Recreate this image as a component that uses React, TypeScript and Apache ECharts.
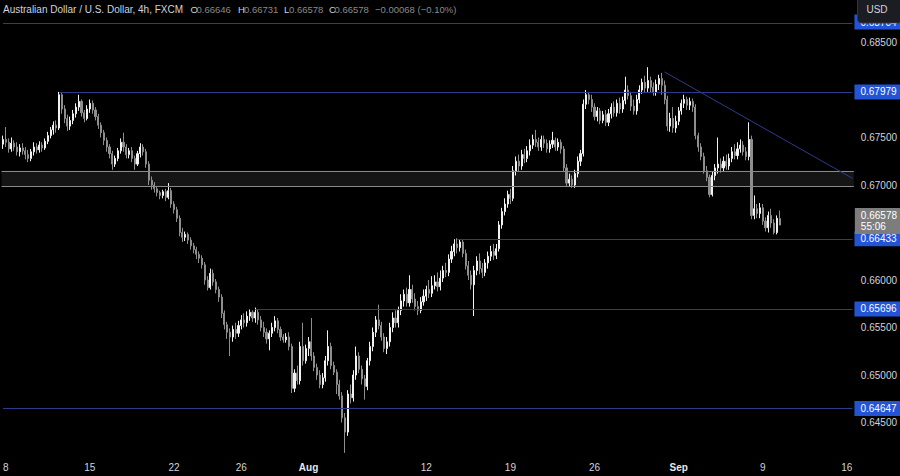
import React, { useEffect, useRef } from 'react';
import * as echarts from 'echarts';

// [open, close, low, high] per 4h candle
const CANDLES: number[][] = [
  [0.6743,0.6748,0.6738,0.6752],[0.6748,0.6745,0.6740,0.6761],[0.6745,0.6738,0.6734,0.6749],[0.6738,0.6744,0.6735,0.6750],
  [0.6744,0.6740,0.6736,0.6747],[0.6740,0.6735,0.6731,0.6745],[0.6735,0.6739,0.6730,0.6743],[0.6739,0.6736,0.6732,0.6744],
  [0.6736,0.6732,0.6727,0.6740],[0.6732,0.6728,0.6724,0.6737],[0.6728,0.6735,0.6725,0.6738],[0.6735,0.6740,0.6731,0.6745],
  [0.6740,0.6737,0.6733,0.6744],[0.6737,0.6742,0.6734,0.6746],[0.6742,0.6739,0.6735,0.6745],[0.6739,0.6746,0.6737,0.6749],
  [0.6746,0.6752,0.6743,0.6756],[0.6752,0.6758,0.6749,0.6761],[0.6758,0.6763,0.6753,0.6767],[0.6763,0.6760,0.6755,0.6768],
  [0.6760,0.6795,0.6758,0.6798],[0.6795,0.6780,0.6775,0.6798],[0.6780,0.6770,0.6765,0.6784],[0.6770,0.6762,0.6757,0.6774],
  [0.6762,0.6768,0.6758,0.6772],[0.6768,0.6775,0.6764,0.6779],[0.6775,0.6782,0.6771,0.6786],[0.6782,0.6788,0.6778,0.6795],
  [0.6788,0.6776,0.6772,0.6790],[0.6776,0.6770,0.6766,0.6779],[0.6770,0.6780,0.6768,0.6784],[0.6780,0.6786,0.6776,0.6790],
  [0.6786,0.6779,0.6775,0.6789],[0.6779,0.6772,0.6768,0.6782],[0.6772,0.6763,0.6759,0.6775],[0.6763,0.6755,0.6750,0.6766],
  [0.6755,0.6747,0.6742,0.6758],[0.6747,0.6740,0.6735,0.6750],[0.6740,0.6733,0.6728,0.6743],[0.6733,0.6722,0.6716,0.6736],
  [0.6722,0.6728,0.6719,0.6731],[0.6728,0.6736,0.6725,0.6739],[0.6736,0.6745,0.6733,0.6749],[0.6745,0.6740,0.6735,0.6755],
  [0.6740,0.6732,0.6728,0.6743],[0.6732,0.6736,0.6728,0.6739],[0.6736,0.6728,0.6724,0.6740],[0.6728,0.6722,0.6716,0.6731],
  [0.6722,0.6733,0.6720,0.6736],[0.6733,0.6740,0.6729,0.6744],[0.6740,0.6735,0.6731,0.6743],[0.6735,0.6722,0.6718,0.6738],
  [0.6722,0.6705,0.6700,0.6725],[0.6705,0.6700,0.6695,0.6709],[0.6700,0.6696,0.6692,0.6703],[0.6696,0.6692,0.6688,0.6699],
  [0.6692,0.6689,0.6685,0.6694],[0.6689,0.6693,0.6686,0.6695],[0.6693,0.6687,0.6683,0.6696],[0.6687,0.6694,0.6685,0.6702],
  [0.6694,0.6680,0.6676,0.6697],[0.6680,0.6674,0.6670,0.6683],[0.6674,0.6665,0.6661,0.6677],[0.6665,0.6650,0.6646,0.6668],
  [0.6650,0.6645,0.6640,0.6655],[0.6645,0.6648,0.6641,0.6651],[0.6648,0.6642,0.6638,0.6650],[0.6642,0.6636,0.6632,0.6645],
  [0.6636,0.6632,0.6628,0.6639],[0.6632,0.6627,0.6622,0.6635],[0.6627,0.6623,0.6618,0.6630],[0.6623,0.6616,0.6612,0.6626],
  [0.6616,0.6600,0.6595,0.6619],[0.6600,0.6592,0.6589,0.6604],[0.6592,0.6607,0.6590,0.6612],[0.6607,0.6598,0.6594,0.6611],
  [0.6598,0.6590,0.6586,0.6601],[0.6590,0.6582,0.6577,0.6593],[0.6582,0.6565,0.6560,0.6585],[0.6565,0.6553,0.6548,0.6568],
  [0.6553,0.6545,0.6538,0.6556],[0.6545,0.6540,0.6520,0.6549],[0.6540,0.6548,0.6535,0.6552],[0.6548,0.6544,0.6538,0.6555],
  [0.6544,0.6552,0.6540,0.6557],[0.6552,0.6558,0.6548,0.6563],[0.6558,0.6555,0.6550,0.6565],[0.6555,0.6562,0.6551,0.6567],
  [0.6562,0.6566,0.6557,0.6569],[0.6566,0.6560,0.6556,0.6568],[0.6560,0.6566,0.6555,0.6571],[0.6566,0.6558,0.6553,0.6569],
  [0.6558,0.6550,0.6546,0.6562],[0.6550,0.6545,0.6540,0.6556],[0.6545,0.6538,0.6533,0.6549],[0.6538,0.6544,0.6526,0.6547],
  [0.6544,0.6550,0.6540,0.6555],[0.6550,0.6557,0.6546,0.6562],[0.6557,0.6548,0.6544,0.6560],[0.6548,0.6540,0.6536,0.6551],
  [0.6540,0.6537,0.6534,0.6543],[0.6537,0.6540,0.6534,0.6544],[0.6540,0.6530,0.6526,0.6545],[0.6530,0.6486,0.6481,0.6533],
  [0.6486,0.6502,0.6482,0.6506],[0.6502,0.6494,0.6490,0.6510],[0.6494,0.6530,0.6490,0.6535],[0.6530,0.6515,0.6510,0.6555],
  [0.6515,0.6528,0.6512,0.6532],[0.6528,0.6535,0.6520,0.6540],[0.6535,0.6520,0.6515,0.6560],[0.6520,0.6508,0.6504,0.6524],
  [0.6508,0.6500,0.6495,0.6512],[0.6500,0.6490,0.6486,0.6505],[0.6490,0.6497,0.6486,0.6502],[0.6497,0.6515,0.6493,0.6520],
  [0.6515,0.6530,0.6510,0.6547],[0.6530,0.6510,0.6506,0.6534],[0.6510,0.6503,0.6500,0.6514],[0.6503,0.6490,0.6480,0.6506],
  [0.6490,0.6478,0.6474,0.6495],[0.6478,0.6455,0.6450,0.6482],[0.6455,0.6440,0.6418,0.6460],[0.6440,0.6480,0.6436,0.6484],
  [0.6480,0.6476,0.6470,0.6490],[0.6476,0.6500,0.6472,0.6505],[0.6500,0.6520,0.6495,0.6530],[0.6520,0.6506,0.6502,0.6524],
  [0.6506,0.6496,0.6490,0.6510],[0.6496,0.6488,0.6474,0.6500],[0.6488,0.6515,0.6484,0.6518],[0.6515,0.6530,0.6510,0.6535],
  [0.6530,0.6545,0.6525,0.6550],[0.6545,0.6558,0.6540,0.6562],[0.6558,0.6552,0.6548,0.6574],[0.6552,0.6540,0.6536,0.6556],
  [0.6540,0.6528,0.6524,0.6544],[0.6528,0.6535,0.6522,0.6540],[0.6535,0.6550,0.6530,0.6555],[0.6550,0.6560,0.6545,0.6566],
  [0.6560,0.6555,0.6550,0.6568],[0.6555,0.6568,0.6550,0.6572],[0.6568,0.6578,0.6563,0.6585],[0.6578,0.6585,0.6572,0.6590],
  [0.6585,0.6576,0.6572,0.6592],[0.6576,0.6590,0.6572,0.6605],[0.6590,0.6580,0.6576,0.6595],[0.6580,0.6572,0.6568,0.6586],
  [0.6572,0.6568,0.6563,0.6578],[0.6568,0.6577,0.6565,0.6582],[0.6577,0.6583,0.6573,0.6590],[0.6583,0.6590,0.6578,0.6594],
  [0.6590,0.6586,0.6581,0.6600],[0.6586,0.6594,0.6582,0.6604],[0.6594,0.6598,0.6590,0.6605],[0.6598,0.6593,0.6588,0.6608],
  [0.6593,0.6602,0.6589,0.6610],[0.6602,0.6610,0.6598,0.6615],[0.6610,0.6608,0.6603,0.6618],[0.6608,0.6622,0.6604,0.6627],
  [0.6622,0.6630,0.6618,0.6636],[0.6630,0.6638,0.6625,0.6643],[0.6638,0.6634,0.6628,0.6644],[0.6634,0.6640,0.6630,0.6643],
  [0.6640,0.6628,0.6624,0.6643],[0.6628,0.6615,0.6611,0.6632],[0.6615,0.6605,0.6600,0.6620],[0.6605,0.6595,0.6590,0.6610],
  [0.6595,0.6610,0.6562,0.6615],[0.6610,0.6620,0.6605,0.6625],[0.6620,0.6612,0.6606,0.6628],[0.6612,0.6608,0.6602,0.6618],
  [0.6608,0.6618,0.6604,0.6622],[0.6618,0.6625,0.6612,0.6630],[0.6625,0.6630,0.6620,0.6636],[0.6630,0.6626,0.6621,0.6638],
  [0.6626,0.6633,0.6622,0.6638],[0.6633,0.6658,0.6630,0.6662],[0.6658,0.6672,0.6654,0.6676],[0.6672,0.6680,0.6668,0.6686],
  [0.6680,0.6690,0.6676,0.6694],[0.6690,0.6686,0.6680,0.6696],[0.6686,0.6715,0.6683,0.6720],[0.6715,0.6725,0.6710,0.6730],
  [0.6725,0.6720,0.6714,0.6732],[0.6720,0.6732,0.6716,0.6737],[0.6732,0.6728,0.6723,0.6738],[0.6728,0.6736,0.6724,0.6741],
  [0.6736,0.6742,0.6731,0.6748],[0.6742,0.6748,0.6738,0.6753],[0.6748,0.6745,0.6740,0.6758],[0.6745,0.6740,0.6736,0.6750],
  [0.6740,0.6748,0.6736,0.6752],[0.6748,0.6744,0.6739,0.6752],[0.6744,0.6738,0.6734,0.6748],[0.6738,0.6743,0.6734,0.6747],
  [0.6743,0.6747,0.6739,0.6756],[0.6747,0.6740,0.6736,0.6750],[0.6740,0.6745,0.6736,0.6749],[0.6745,0.6738,0.6733,0.6748],
  [0.6738,0.6718,0.6714,0.6741],[0.6718,0.6702,0.6698,0.6722],[0.6702,0.6706,0.6698,0.6712],[0.6706,0.6700,0.6697,0.6710],
  [0.6700,0.6712,0.6697,0.6716],[0.6712,0.6725,0.6708,0.6730],[0.6725,0.6733,0.6720,0.6737],[0.6733,0.6785,0.6730,0.6790],
  [0.6785,0.6795,0.6780,0.6800],[0.6795,0.6790,0.6785,0.6798],[0.6790,0.6782,0.6777,0.6795],[0.6782,0.6772,0.6768,0.6786],
  [0.6772,0.6778,0.6767,0.6782],[0.6778,0.6768,0.6764,0.6781],[0.6768,0.6774,0.6765,0.6778],[0.6774,0.6766,0.6762,0.6779],
  [0.6766,0.6775,0.6762,0.6780],[0.6775,0.6782,0.6770,0.6786],[0.6782,0.6776,0.6772,0.6788],[0.6776,0.6786,0.6772,0.6790],
  [0.6786,0.6780,0.6775,0.6792],[0.6780,0.6789,0.6776,0.6793],[0.6789,0.6800,0.6785,0.6814],[0.6800,0.6794,0.6790,0.6805],
  [0.6794,0.6783,0.6778,0.6798],[0.6783,0.6778,0.6774,0.6790],[0.6778,0.6790,0.6774,0.6795],[0.6790,0.6800,0.6786,0.6805],
  [0.6800,0.6808,0.6796,0.6812],[0.6808,0.6802,0.6797,0.6815],[0.6802,0.6810,0.6798,0.6824],[0.6810,0.6803,0.6797,0.6814],
  [0.6803,0.6798,0.6794,0.6808],[0.6798,0.6806,0.6794,0.6811],[0.6806,0.6812,0.6800,0.6816],[0.6812,0.6805,0.6795,0.6818],
  [0.6805,0.6790,0.6785,0.6810],[0.6790,0.6762,0.6757,0.6794],[0.6762,0.6770,0.6756,0.6776],[0.6770,0.6760,0.6755,0.6782],
  [0.6760,0.6767,0.6755,0.6773],[0.6767,0.6778,0.6763,0.6782],[0.6778,0.6786,0.6774,0.6790],[0.6786,0.6790,0.6781,0.6795],
  [0.6790,0.6784,0.6779,0.6793],[0.6784,0.6788,0.6779,0.6792],[0.6788,0.6782,0.6777,0.6791],[0.6782,0.6752,0.6748,0.6785],
  [0.6752,0.6740,0.6735,0.6755],[0.6740,0.6730,0.6726,0.6744],[0.6730,0.6715,0.6712,0.6734],[0.6715,0.6708,0.6704,0.6720],
  [0.6708,0.6690,0.6687,0.6711],[0.6690,0.6710,0.6688,0.6714],[0.6710,0.6718,0.6705,0.6722],[0.6718,0.6722,0.6712,0.6750],
  [0.6722,0.6718,0.6713,0.6728],[0.6718,0.6725,0.6714,0.6730],[0.6725,0.6720,0.6716,0.6732],[0.6720,0.6728,0.6716,0.6733],
  [0.6728,0.6735,0.6724,0.6740],[0.6735,0.6731,0.6727,0.6743],[0.6731,0.6738,0.6727,0.6745],[0.6738,0.6742,0.6734,0.6748],
  [0.6742,0.6735,0.6731,0.6746],[0.6735,0.6730,0.6726,0.6740],[0.6730,0.6748,0.6726,0.6766],[0.6748,0.6668,0.6664,0.6752],
  [0.6668,0.6675,0.6664,0.6689],[0.6675,0.6670,0.6665,0.6680],[0.6670,0.6676,0.6665,0.6681],[0.6676,0.6662,0.6658,0.6680],
  [0.6662,0.6655,0.6651,0.6666],[0.6655,0.6668,0.6650,0.6672],[0.6668,0.6660,0.6655,0.6675],[0.6660,0.6650,0.6648,0.6664],
  [0.6650,0.6665,0.6648,0.6668],[0.66646,0.66578,0.66578,0.66731],
];

const Y_TICKS = [0.685, 0.675, 0.67, 0.66, 0.655, 0.65, 0.645];
const X_TICKS: Record<string, string> = {
  '2024-07-08 00:00': '8', '2024-07-15 00:00': '15', '2024-07-22 00:00': '22', '2024-07-26 00:00': '26',
  '2024-08-01 00:00': 'Aug', '2024-08-12 00:00': '12', '2024-08-19 00:00': '19', '2024-08-26 00:00': '26',
  '2024-09-02 00:00': 'Sep', '2024-09-09 00:00': '9', '2024-09-16 00:00': '16',
};
// horizontal levels: price and first candle index
const LEVEL_PRICES = [0.68704, 0.67979, 0.66433, 0.65696, 0.64647];
const LEVEL_START = [0, 20, 162, 90, 0];
const ZONE = [0.6699, 0.6715];
const TREND_IDX = [236, 303];
const TREND_PRICE = [0.6819, 0.6707];
const LAST_PRICE = 0.66578;
const COUNTDOWN = '55:06';
const TITLE = 'Australian Dollar / U.S. Dollar, 4h, FXCM';
const OHLC_KEYS = ['O', 'H', 'L', 'C'];
const OHLC = ['0.66646', '0.66731', '0.66578', '0.66578'];
const CHANGE = '\u22120.00068 (\u22120.10%)';

const N_CATS = 304;
function buildCategories(): string[] {
  const pad = (n: number) => (n < 10 ? '0' + n : '' + n);
  const cats: string[] = ['2024-07-05 20:00'];
  let t = Date.UTC(2024, 6, 8);
  while (cats.length < N_CATS) {
    const d = new Date(t);
    const wd = d.getUTCDay();
    if (wd >= 1 && wd <= 5) {
      for (let h = 0; h < 24 && cats.length < N_CATS; h += 4) {
        cats.push(`${d.getUTCFullYear()}-${pad(d.getUTCMonth() + 1)}-${pad(d.getUTCDate())} ${pad(h)}:00`);
      }
    }
    t += 86400000;
  }
  return cats;
}

const FONT = '"Liberation Sans", Arial, sans-serif';
const BLUE_LINE = '#2e3a8c';
const BLUE_LABEL = '#2454d6';
const KEY_X = [190.5, 238, 284, 329];
const VAL_X = [196.5, 244, 289, 334.5];

export default function App() {
  const ref = useRef<HTMLDivElement>(null);
  useEffect(() => {
    if (!ref.current) return;
    const chart = echarts.init(ref.current, undefined, { renderer: 'svg' });
    const cats = buildCategories();
    const last = cats[N_CATS - 1];

    const levelLines = LEVEL_PRICES.map((p, i) => [
      {
        coord: [cats[LEVEL_START[i]], p],
        lineStyle: { color: BLUE_LINE, width: 1, type: 'solid' },
        label: {
          show: true, position: 'end', distance: 2, formatter: p.toFixed(5),
          offset: i === 0 ? [0, -1] : [0, 0],
          backgroundColor: BLUE_LABEL, color: '#ffffff', fontSize: 10, fontFamily: FONT,
          padding: [2, 6, 2, 6], lineHeight: 11,
        },
      },
      { coord: [last, p] },
    ]);

    const header: any[] = [
      { type: 'text', x: 3, y: 9, z: 100, style: { text: TITLE, fill: '#d1d4dc', font: `10px ${FONT}`, verticalAlign: 'middle' } },
    ];
    OHLC_KEYS.forEach((k, i) => {
      header.push({ type: 'text', x: KEY_X[i], y: 9, z: 100, style: { text: k, fill: '#d1d4dc', font: `9.5px ${FONT}`, verticalAlign: 'middle' } });
      header.push({ type: 'text', x: VAL_X[i], y: 9, z: 100, style: { text: OHLC[i], fill: '#8a8a8a', font: `9.5px ${FONT}`, verticalAlign: 'middle' } });
    });
    header.push({ type: 'text', x: 375, y: 9, z: 100, style: { text: CHANGE, fill: '#8a8a8a', font: `9.5px ${FONT}`, verticalAlign: 'middle' } });

    const option: any = {
      animation: false,
      backgroundColor: '#000000',
      textStyle: { fontFamily: FONT },
      grid: { left: 0, right: 43, top: 0, bottom: 21 },
      xAxis: {
        type: 'category',
        data: cats,
        boundaryGap: true,
        axisLine: { show: false },
        axisTick: { show: false },
        splitLine: { show: false },
        axisLabel: {
          color: '#d1d4dc', fontSize: 10, margin: 7, fontFamily: FONT,
          interval: (_i: number, v: string) => v in X_TICKS,
          formatter: (v: string) => {
            const t = X_TICKS[v] || '';
            return t === 'Aug' || t === 'Sep' ? `{b|${t}}` : t;
          },
          rich: { b: { fontWeight: 'bold', color: '#e8e8e8', fontSize: 10 } },
        },
      },
      yAxis: {
        type: 'value',
        position: 'right',
        min: 0.641579,
        max: 0.689474,
        axisLine: { show: false },
        axisTick: { show: false },
        splitLine: { show: false },
        axisLabel: {
          color: '#d1d4dc', fontSize: 10, margin: 7, fontFamily: FONT,
          customValues: Y_TICKS,
          formatter: (v: number) => v.toFixed(5),
        },
      },
      series: [
        {
          type: 'candlestick',
          data: CANDLES,
          barWidth: 1.6,
          itemStyle: {
            color: '#f2f2f2', color0: '#8e8e8e',
            borderColor: '#f2f2f2', borderColor0: '#8e8e8e', borderWidth: 1,
          },
          markArea: {
            silent: true,
            label: { show: false },
            itemStyle: { color: '#151515' },
            data: [[{ yAxis: ZONE[0] }, { yAxis: ZONE[1] }]],
          },
          markLine: {
            silent: true,
            precision: 5,
            symbol: ['none', 'none'],
            label: { show: false },
            emphasis: { disabled: true },
            data: [
              { yAxis: ZONE[0], lineStyle: { color: '#8a8a8a', width: 1, type: 'solid' }, label: { show: false } },
              { yAxis: ZONE[1], lineStyle: { color: '#8a8a8a', width: 1, type: 'solid' }, label: { show: false } },
              ...levelLines,
              [
                { coord: [cats[TREND_IDX[0]], TREND_PRICE[0]], lineStyle: { color: BLUE_LINE, width: 1, type: 'solid' } },
                { coord: [cats[TREND_IDX[1]], TREND_PRICE[1]] },
              ],
              {
                yAxis: LAST_PRICE,
                lineStyle: { color: 'rgba(0,0,0,0)', width: 0 },
                label: {
                  show: true, position: 'end', distance: 1, offset: [0, -4],
                  formatter: `${LAST_PRICE.toFixed(5)}\n${COUNTDOWN}`,
                  backgroundColor: '#7d7d7d', color: '#ffffff', fontSize: 10, fontFamily: FONT,
                  padding: [2, 6, 2, 6], lineHeight: 11,
                },
              },
            ],
          },
        },
      ],
      graphic: [
        ...header,
        { type: 'rect', x: 857.5, y: -4, z: 100, shape: { width: 45, height: 27, r: 4 }, style: { fill: '#1c1d22', stroke: '#34353b', lineWidth: 1 } },
        { type: 'text', x: 877, y: 9, z: 101, style: { text: 'USD', fill: '#d1d4dc', font: `10px ${FONT}`, align: 'center', verticalAlign: 'middle' } },
      ],
    };
    chart.setOption(option);
    return () => chart.dispose();
  }, []);
  return <div ref={ref} style={{ position: 'fixed', left: 0, top: 0, width: 900, height: 476 }} />;
}
